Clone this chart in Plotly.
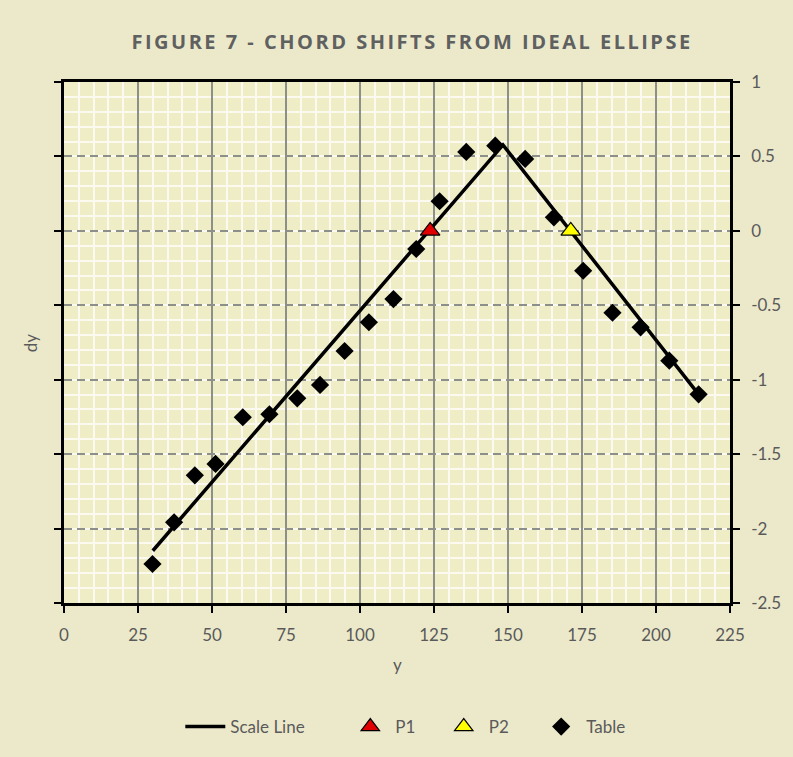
import plotly.graph_objects as go

# Data
table_y = [29.9, 37.2, 44.2, 51.2, 60.4, 69.4, 78.8, 86.5, 94.8, 103.0, 111.3,
           119.0, 126.9, 135.9, 145.7, 155.8, 165.5, 175.4, 185.3, 194.8, 204.5, 214.4]
table_dy = [-2.238, -1.958, -1.642, -1.566, -1.252, -1.232, -1.125, -1.035, -0.807,
            -0.614, -0.458, -0.122, 0.199, 0.530, 0.572, 0.483, 0.091, -0.268,
            -0.550, -0.648, -0.872, -1.098]
scale_y = [30.0, 148.3, 214.4]
scale_dy = [-2.149, 0.577, -1.098]
p1_y = [123.7]
p1_dy = [0.0]
p2_y = [171.2]
p2_dy = [0.0]
x_ticks = [0, 25, 50, 75, 100, 125, 150, 175, 200, 225]
y_ticks = [1, 0.5, 0, -0.5, -1, -1.5, -2, -2.5]
y_tick_text = ["1", "0.5", "0", "-0.5", "-1", "-1.5", "-2", "-2.5"]

TXT = "#5a5a5a"
FONT = "Lato"
PAPER = "#ece9cb"
PLOT_L, PLOT_W = 64, 670


def legend_at(px):
    return dict(orientation="h", x=(px - PLOT_L) / PLOT_W, xanchor="left",
                y=-0.238, yanchor="middle", font=dict(size=17, color=TXT),
                bgcolor="rgba(0,0,0,0)", itemwidth=40)


fig = go.Figure()
fig.add_trace(go.Scatter(x=scale_y, y=scale_dy, mode="lines", name="Scale Line",
                         line=dict(color="black", width=3.5), legend="legend"))
fig.add_trace(go.Scatter(x=table_y, y=table_dy, mode="markers", name="Table",
                         marker=dict(symbol="diamond", size=14, color="black"),
                         legend="legend4"))
fig.add_trace(go.Scatter(x=p1_y, y=p1_dy, mode="markers", name="P1",
                         marker=dict(symbol="triangle-up", size=17, color="#e00000",
                                     line=dict(color="black", width=1.2)),
                         legend="legend2"))
fig.add_trace(go.Scatter(x=p2_y, y=p2_dy, mode="markers", name="P2",
                         marker=dict(symbol="triangle-up", size=17, color="#ffff00",
                                     line=dict(color="black", width=1.2)),
                         legend="legend3"))

fig.update_layout(
    width=793, height=757, autosize=False,
    margin=dict(l=64, r=59, t=82, b=154),
    paper_bgcolor=PAPER,
    plot_bgcolor="#eeedc6",
    font=dict(family=FONT, color=TXT, size=16),
    title=dict(text='<span style="letter-spacing:2.5px">FIGURE 7 - CHORD SHIFTS FROM IDEAL ELLIPSE</span>',
               xref="container", x=0.5196, xanchor="center", y=0.944, yanchor="middle",
               font=dict(family="Open Sans", size=20, color="#5f6060", weight="bold")),
    showlegend=True,
    legend=legend_at(181),
    legend2=legend_at(347),
    legend3=legend_at(441),
    legend4=legend_at(539),
    xaxis=dict(range=[0, 225], tickvals=x_ticks, showline=True, linecolor="black",
               linewidth=2.5, mirror=True, ticks="outside", ticklen=7, tickwidth=2,
               tickcolor="black", showgrid=True, gridcolor="#8c9088", gridwidth=1.5,
               zeroline=False, ticklabelstandoff=8, tickfont=dict(size=17, color=TXT),
               minor=dict(dtick=5, showgrid=True, gridcolor="#fcf9f0", gridwidth=2.2,
                          griddash="solid", ticks="")),
    yaxis=dict(range=[-2.5, 1], tickvals=y_ticks, ticktext=y_tick_text, side="right",
               showline=True, linecolor="black", linewidth=2.5, mirror="ticks",
               ticks="outside", ticklen=7, tickwidth=2, tickcolor="black",
               showgrid=True, gridcolor="#8c9088", gridwidth=1.5, griddash="8px,5px",
               zeroline=False, ticklabelstandoff=8, tickfont=dict(size=17, color=TXT),
               minor=dict(dtick=0.1, showgrid=True, gridcolor="#fcf9f0", gridwidth=2.2,
                          griddash="solid", ticks="")),
    annotations=[
        dict(text="dy", xref="paper", yref="paper", x=-0.05, y=0.5, xanchor="center",
             yanchor="middle", showarrow=False, textangle=-90,
             font=dict(size=17, color=TXT)),
        dict(text="y", xref="paper", yref="paper", x=0.5, y=-0.119, xanchor="center",
             yanchor="middle", showarrow=False, font=dict(size=17, color=TXT)),
    ],
)

fig.write_html("out.html", config={"displayModeBar": False},
               post_script="document.body.style.margin='0';"
                           "document.body.style.background='%s';"
                           "document.body.style.overflow='hidden';" % PAPER)
